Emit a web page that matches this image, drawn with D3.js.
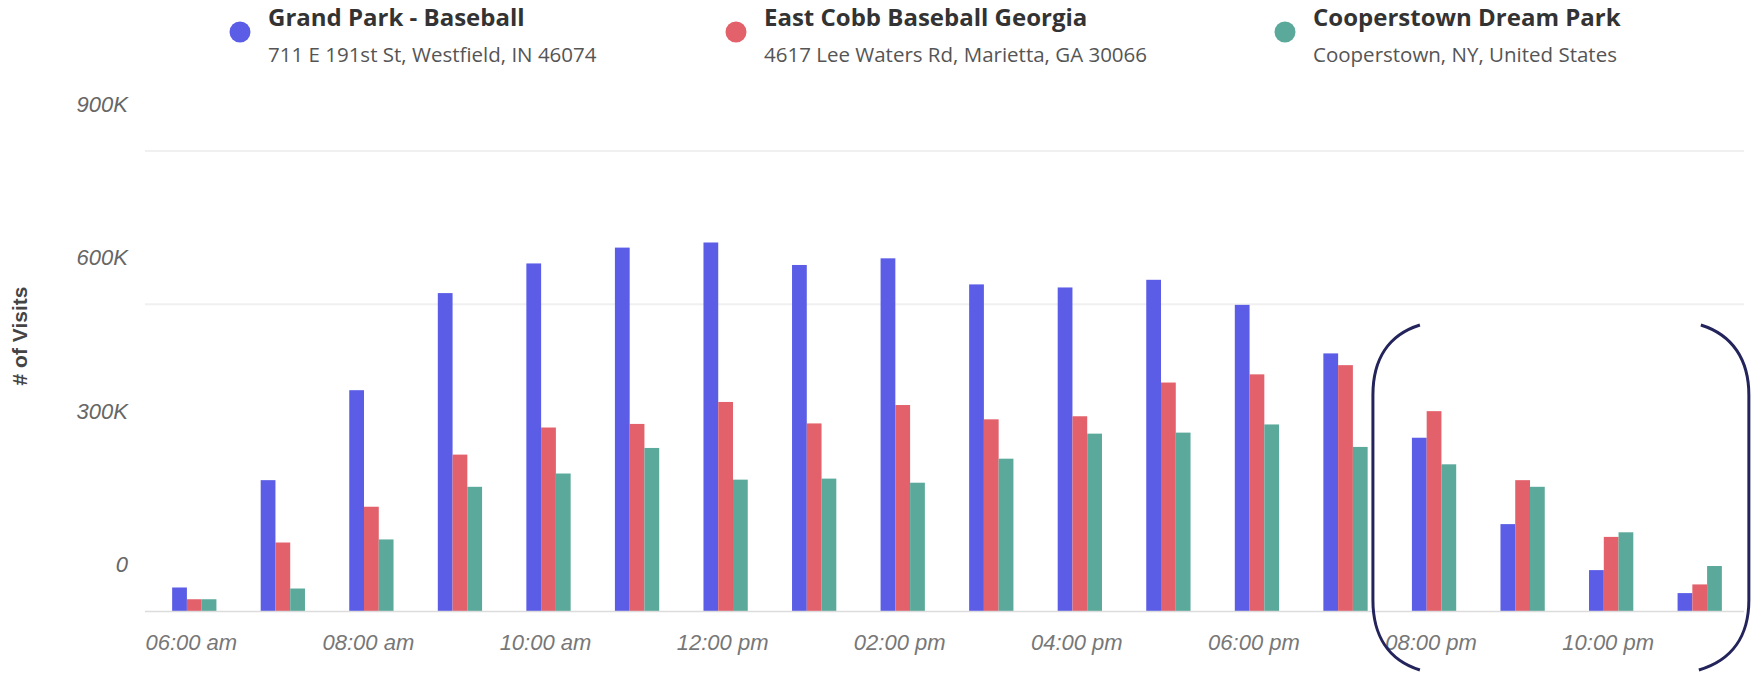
<!DOCTYPE html>
<html>
<head>
<meta charset="utf-8">
<script src="https://cdn.jsdelivr.net/npm/d3@7"></script>
<style>
  html, body { margin: 0; padding: 0; background: #fff; }
  svg { display: block; }
</style>
</head>
<body>
<svg id="chart" width="1759" height="681"></svg>
<script>
const hours = ["06:00 am","07:00 am","08:00 am","09:00 am","10:00 am","11:00 am","12:00 pm","01:00 pm","02:00 pm","03:00 pm","04:00 pm","05:00 pm","06:00 pm","07:00 pm","08:00 pm","09:00 pm","10:00 pm","11:00 pm"];
const seriesNames = ["Grand Park - Baseball","East Cobb Baseball Georgia","Cooperstown Dream Park"];
const seriesAddresses = ["711 E 191st St, Westfield, IN 46074","4617 Lee Waters Rd, Marietta, GA 30066","Cooperstown, NY, United States"];
const seriesColors = ["#5b5de6","#e2616b","#5aa99b"];
const grandPark = [46000,256000,432000,622000,680000,711000,721000,677000,690000,639000,633000,648000,599000,504000,339000,170000,80000,35000];
const eastCobb = [23000,134000,204000,306000,359000,366000,409000,367000,403000,375000,381000,447000,463000,481000,391000,256000,145000,52000];
const cooperstown = [23000,44000,140000,243000,269000,319000,257000,259000,251000,298000,347000,349000,365000,321000,287000,243000,154000,88000];
const yTicks = [0,300000,600000,900000];
const yTickLabels = ["0","300K","600K","900K"];
const gridValues = [600000,900000];
const highlighted = ["08:00 pm","11:00 pm"];

(function () {
const svg = d3.select("#chart");
const values = [grandPark, eastCobb, cooperstown];

const x = d3.scaleBand().domain(hours).range([150, 1744]).paddingInner(0.5).paddingOuter(0.25);
const xs = d3.scaleBand().domain(d3.range(3)).range([0, x.bandwidth()]);
const y = d3.scaleLinear().domain([0, 900000]).range([611, 151]);

// gridlines
svg.append("g").selectAll("line").data(gridValues).join("line")
  .attr("x1", 145).attr("x2", 1744)
  .attr("y1", d => y(d)).attr("y2", d => y(d))
  .attr("stroke", "#f0f0f0").attr("stroke-width", 2);

// y labels (offset above their gridlines, as in the source)
svg.append("g").selectAll("text").data(yTicks).join("text")
  .attr("x", 128).attr("y", d => y(d) - 39)
  .attr("text-anchor", "end")
  .attr("font-family", "Liberation Sans, Arial, sans-serif")
  .attr("font-style", "italic").attr("font-size", 22)
  .attr("fill", "#666")
  .text((d, i) => yTickLabels[i]);

// y title
svg.append("text")
  .attr("transform", "translate(27,336) rotate(-90)")
  .attr("text-anchor", "middle")
  .attr("font-family", "Liberation Sans, Arial, sans-serif")
  .attr("font-weight", "bold").attr("font-size", 21)
  .attr("fill", "#444")
  .text("# of Visits");

// bars
const g = svg.append("g");
values.forEach((arr, si) => {
  g.append("g").selectAll("rect").data(arr).join("rect")
    .attr("x", (d, i) => x(hours[i]) + xs(si))
    .attr("width", xs.bandwidth())
    .attr("y", d => y(d))
    .attr("height", d => y(0) - y(d))
    .attr("fill", seriesColors[si]);
});

// baseline
svg.append("line")
  .attr("x1", 145).attr("x2", 1744)
  .attr("y1", y(0) + 0.5).attr("y2", y(0) + 0.5)
  .attr("stroke", "#dcdcdc").attr("stroke-width", 1.5);

// x labels
svg.append("g").selectAll("text").data(hours.filter((h, i) => i % 2 === 0)).join("text")
  .attr("x", d => x(d) + x.bandwidth() / 2 - 3)
  .attr("y", 650)
  .attr("text-anchor", "middle")
  .attr("font-family", "Liberation Sans, Arial, sans-serif")
  .attr("font-style", "italic").attr("font-size", 22)
  .attr("fill", "#777")
  .text(d => d);

// legend
const legendX = [240, 736, 1285];
const legend = svg.append("g").selectAll("g").data(seriesNames).join("g")
  .attr("transform", (d, i) => `translate(${legendX[i]},0)`);
legend.append("circle").attr("cx", 0).attr("cy", 32).attr("r", 10.5)
  .attr("fill", (d, i) => seriesColors[i]);
legend.append("text").attr("x", 28).attr("y", 26)
  .attr("font-family", "Open Sans, sans-serif").attr("font-weight", "bold")
  .attr("font-size", 24).attr("fill", "#333")
  .text(d => d);
legend.append("text").attr("x", 28).attr("y", 62)
  .attr("font-family", "Open Sans, sans-serif")
  .attr("font-size", 20.5).attr("fill", "#555")
  .text((d, i) => seriesAddresses[i]);

// brackets around the late-evening hours
const bx0 = x(highlighted[0]) - 39;
const bx1 = x(highlighted[1]) + x.bandwidth() + 27;
const yTop = 325, yBot = 670;
const lp = d3.path();
lp.moveTo(bx0 + 47, yTop);
lp.bezierCurveTo(bx0 + 15, yTop + 10, bx0, yTop + 35, bx0, yTop + 70);
lp.lineTo(bx0, yBot - 70);
lp.bezierCurveTo(bx0, yBot - 35, bx0 + 15, yBot - 10, bx0 + 47, yBot);
const rp = d3.path();
rp.moveTo(bx1 - 48, yTop);
rp.bezierCurveTo(bx1 - 16, yTop + 10, bx1, yTop + 35, bx1, yTop + 70);
rp.lineTo(bx1, yBot - 70);
rp.bezierCurveTo(bx1, yBot - 35, bx1 - 16, yBot - 10, bx1 - 50, yBot);
svg.append("path").attr("d", lp.toString()).attr("fill", "none")
  .attr("stroke", "#24245c").attr("stroke-width", 3);
svg.append("path").attr("d", rp.toString()).attr("fill", "none")
  .attr("stroke", "#24245c").attr("stroke-width", 3);
})();
</script>
</body>
</html>
